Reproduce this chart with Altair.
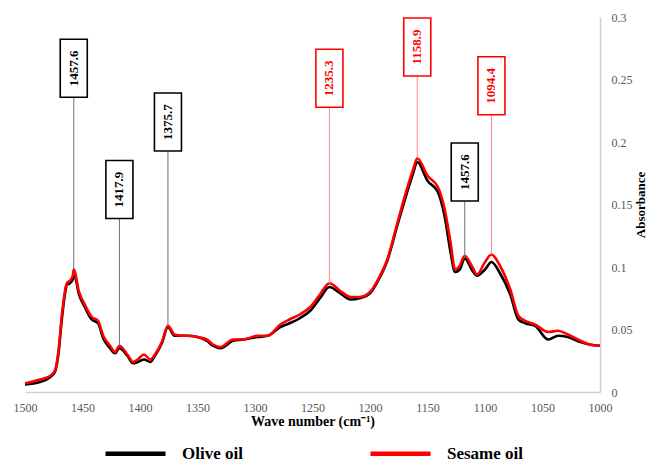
import altair as alt
import pandas as pd

# Wavenumber grid (cm-1) and absorbance
wavenumber = [1500, 1487, 1478, 1474, 1471, 1468, 1465, 1463.5, 1461, 1458.5, 1457.6, 1453, 1448, 1442,
              1436.5, 1432, 1426, 1421.7, 1417.9, 1411, 1406, 1402, 1396.5, 1391, 1387, 1381, 1375.7,
              1370, 1363.5, 1359, 1350, 1342, 1336.5, 1330, 1319, 1310, 1298, 1289, 1278, 1270, 1261,
              1252, 1243.5, 1235.3, 1226, 1217, 1209, 1200, 1193, 1185, 1176, 1168, 1162.5, 1158.9,
              1150, 1141, 1135, 1130, 1126, 1122, 1117.6, 1111, 1107, 1100, 1094.4, 1087, 1078, 1071,
              1065, 1056.5, 1045, 1036.5, 1028, 1017, 1009, 1000]

olive = [0.006, 0.008, 0.012, 0.016, 0.030, 0.058, 0.080, 0.086, 0.087, 0.090, 0.095, 0.078, 0.068, 0.058,
         0.055, 0.043, 0.035, 0.031, 0.035, 0.029, 0.023, 0.024, 0.026, 0.024, 0.029, 0.039, 0.052,
         0.045, 0.045, 0.045, 0.044, 0.041, 0.037, 0.035, 0.041, 0.042, 0.044, 0.045, 0.052, 0.055, 0.059,
         0.065, 0.075, 0.084, 0.079, 0.074, 0.075, 0.079, 0.089, 0.105, 0.134, 0.159, 0.175, 0.184,
         0.169, 0.160, 0.140, 0.112, 0.096, 0.098, 0.107, 0.097, 0.093, 0.098, 0.104, 0.095, 0.078, 0.058,
         0.055, 0.053, 0.042, 0.045, 0.044, 0.040, 0.038, 0.037]

sesame = [0.007, 0.010, 0.013, 0.017, 0.032, 0.061, 0.082, 0.087, 0.089, 0.093, 0.098, 0.080, 0.070, 0.060,
          0.057, 0.045, 0.037, 0.032, 0.037, 0.030, 0.024, 0.026, 0.030, 0.026, 0.030, 0.040, 0.053,
          0.046, 0.045, 0.045, 0.044, 0.042, 0.038, 0.036, 0.042, 0.042, 0.045, 0.045, 0.054, 0.058, 0.062,
          0.068, 0.078, 0.087, 0.081, 0.076, 0.076, 0.080, 0.090, 0.106, 0.136, 0.162, 0.178, 0.187,
          0.173, 0.164, 0.146, 0.120, 0.098, 0.101, 0.109, 0.100, 0.094, 0.104, 0.110, 0.101, 0.082, 0.061,
          0.057, 0.054, 0.048, 0.049, 0.046, 0.041, 0.038, 0.037]

series_names = ["Olive oil", "Sesame oil"]
series_colors = ["#000000", "#ff0000"]

# Peak annotations
ann_label = ["1457.6", "1417.9", "1375.7", "1235.3", "1158.9", "1457.6", "1094.4"]
ann_x = [1457.6, 1417.9, 1375.7, 1235.3, 1158.9, 1117.6, 1094.4]
ann_box_y = [0.259, 0.162, 0.216, 0.251, 0.276, 0.176, 0.245]
ann_peak_y = [0.098, 0.037, 0.053, 0.087, 0.187, 0.107, 0.110]
ann_color = ["#000000", "#000000", "#000000", "#ff0000", "#ff0000", "#000000", "#ff0000"]
ann_line_color = ["#707070", "#707070", "#707070", "#ff8a8a", "#ff8a8a", "#707070", "#ff8a8a"]

x_ticks = [1500, 1450, 1400, 1350, 1300, 1250, 1200, 1150, 1100, 1050, 1000]
y_ticks = [0, 0.05, 0.1, 0.15, 0.2, 0.25, 0.3]

spec_df = pd.concat([
    pd.DataFrame({"wn": wavenumber, "abs": olive, "series": series_names[0]}),
    pd.DataFrame({"wn": wavenumber, "abs": sesame, "series": series_names[1]}),
])
ann_df = pd.DataFrame({"label": ann_label, "x": ann_x, "box": ann_box_y, "peak": ann_peak_y,
                       "col": ann_color, "lcol": ann_line_color})

SERIF = "Liberation Serif"

x_scale = alt.Scale(domain=[1000, 1500], reverse=True, nice=False)
y_scale = alt.Scale(domain=[0, 0.3], nice=False)

lines = alt.Chart(spec_df).mark_line(interpolate="monotone", strokeWidth=2.6).encode(
    x=alt.X("wn:Q", scale=x_scale,
            axis=alt.Axis(values=x_ticks, title="Wave number (cm\u207b\u00b9)", grid=False, ticks=False,
                          domainColor="#d0d0d0", domainWidth=1.5, labelColor="#595959",
                          labelFont=SERIF, labelFontSize=12, labelPadding=10, labelFlush=False,
                          titleFont=SERIF, titleFontSize=14, titleFontWeight="bold",
                          titleColor="#000000", titlePadding=1, format="d")),
    y=alt.Y("abs:Q", scale=y_scale,
            axis=alt.Axis(orient="right", values=y_ticks, title="Absorbance", grid=False, ticks=False,
                          domainColor="#d0d0d0", domainWidth=1.5, labelColor="#595959",
                          labelFont=SERIF, labelFontSize=12, labelPadding=11, labelFlush=False,
                          titleFont=SERIF, titleFontSize=13, titleFontWeight="bold",
                          titleColor="#000000", titleAngle=270, titlePadding=15, format="~g")),
    color=alt.Color("series:N",
                    scale=alt.Scale(domain=series_names, range=series_colors),
                    legend=alt.Legend(title=None, orient="none", direction="horizontal",
                                      legendX=78, legendY=404, symbolType="stroke",
                                      symbolSize=3600, symbolStrokeWidth=4.5,
                                      labelFont=SERIF, labelFontSize=17, labelFontWeight="bold",
                                      labelColor="#000000", labelOffset=14, columnPadding=118,
                                      labelLimit=200)),
)

rules = alt.Chart(ann_df).mark_rule(strokeWidth=1).encode(
    x="x:Q", y="box:Q", y2="peak:Q", color=alt.Color("lcol:N", scale=None, legend=None)
)

boxes = alt.Chart(ann_df).mark_point(
    shape="M-0.466,-1H0.466V1H-0.466Z", size=3364, filled=False, fill="white",
    fillOpacity=1, strokeWidth=1.6, opacity=1
).encode(
    x="x:Q", y="box:Q", stroke=alt.Stroke("col:N", scale=None, legend=None)
)

texts = alt.Chart(ann_df).mark_text(
    angle=270, font=SERIF, fontSize=13, fontWeight="bold", align="center", baseline="middle"
).encode(
    x="x:Q", y="box:Q", text="label:N", color=alt.Color("col:N", scale=None, legend=None)
)

chart = alt.layer(lines, rules, boxes, texts).properties(
    width=575, height=375, padding={"left": 5, "top": 3, "right": 0, "bottom": 0}
).configure_view(stroke=None)

chart.save("out.html", embed_options={"renderer": "svg", "actions": False})
